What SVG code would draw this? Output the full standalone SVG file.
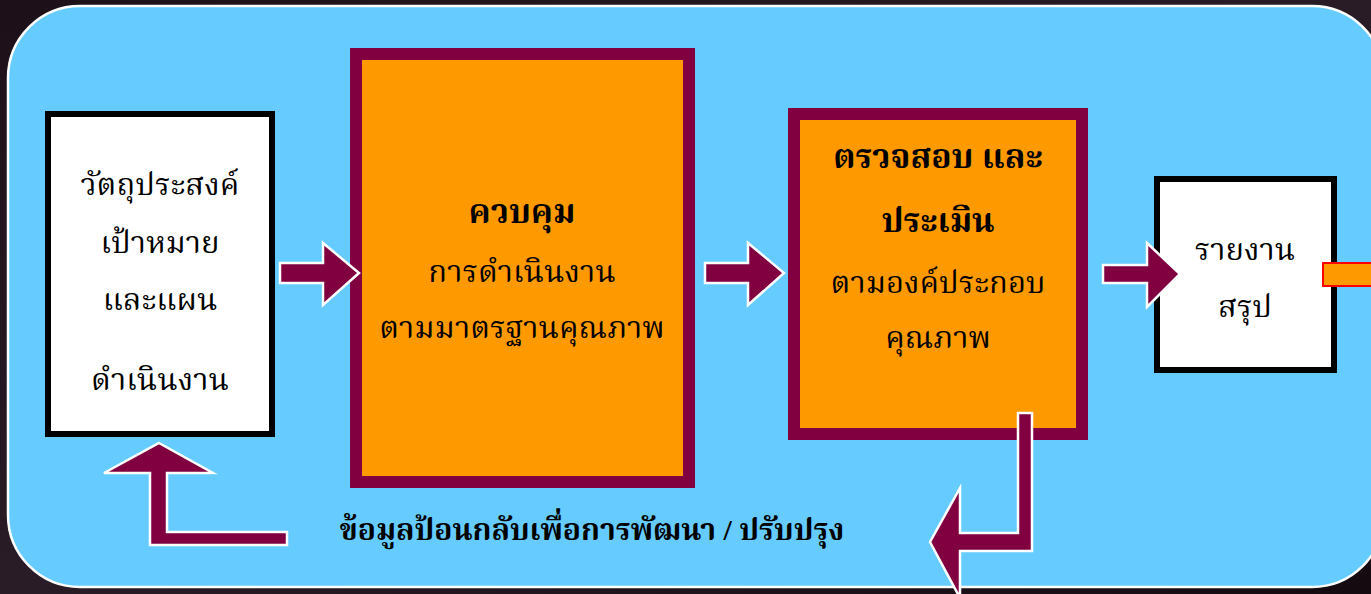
<svg xmlns="http://www.w3.org/2000/svg" width="1371" height="594" viewBox="0 0 1371 594">
<defs>
<linearGradient id="bg" x1="0" y1="0" x2="1" y2="1">
<stop offset="0" stop-color="#1e1018"/>
<stop offset="0.5" stop-color="#2a1c26"/>
<stop offset="1" stop-color="#140a10"/>
</linearGradient>
<style>
.t{font-family:"Liberation Serif","Noto Serif Thai","Noto Sans Thai",serif;font-size:31px;fill:#000;text-anchor:middle}
.b{font-weight:bold;font-size:33.5px}
.f{font-weight:bold;font-size:30px}
.white{fill:#fff;stroke:#000;stroke-width:6}
.ora{fill:#FF9900;stroke:#800040;stroke-width:12}
.arr{fill:#800040;stroke:#fff;stroke-width:2.5}
</style>
</defs>
<rect width="1371" height="594" fill="url(#bg)"/>
<rect x="8" y="6" width="1376" height="581" rx="72" ry="72" fill="#66CCFF" stroke="#fff" stroke-width="2.5"/>

<g id="node-objectives">
<rect class="white" x="48" y="114" width="224" height="320"/>
<text class="t" x="160" y="195">วัตถุประสงค์</text>
<text class="t" x="160" y="253">เป้าหมาย</text>
<text class="t" x="160" y="310">และแผน</text>
<text class="t" x="160" y="390">ดำเนินงาน</text>
</g>

<g id="node-control">
<rect class="ora" x="356" y="54" width="333" height="428"/>
<text class="t b" x="522" y="223">ควบคุม</text>
<text class="t" x="522" y="282">การดำเนินงาน</text>
<text class="t" x="522" y="338">ตามมาตรฐานคุณภาพ</text>
</g>

<g id="node-evaluate">
<rect class="ora" x="794" y="114" width="288" height="320"/>
<text class="t b" x="938" y="168">ตรวจสอบ และ</text>
<text class="t b" x="938" y="232">ประเมิน</text>
<text class="t" x="938" y="293">ตามองค์ประกอบ</text>
<text class="t" x="938" y="348">คุณภาพ</text>
</g>

<g id="node-report">
<rect class="white" x="1157" y="179" width="177" height="191"/>
<text class="t" x="1245" y="260">รายงาน</text>
<text class="t" x="1245" y="317">สรุป</text>
</g>

<g id="connectors">
<path class="arr" d="M280,263 L323,263 L323,243 L359,273 L323,305 L323,283 L280,283 Z"/>
<path class="arr" d="M705,263 L748,263 L748,243 L784,273 L748,305 L748,283 L705,283 Z"/>
<path class="arr" d="M1103,265 L1147,265 L1147,243 L1180,274 L1147,307 L1147,283 L1103,283 Z"/>
<path class="arr" d="M159,443 L213,473 L167,473 L167,532 L287,532 L287,545 L150,545 L150,473 L104,473 Z"/>
<path class="arr" d="M1018,413 L1032,413 L1032,551 L960,551 L960,598 L930,542 L960,488 L960,533 L1018,533 Z"/>
<rect x="1323" y="263" width="60" height="23" fill="#FF9900" stroke="#FF0000" stroke-width="2"/>
</g>

<text class="t f" x="592" y="540">ข้อมูลป้อนกลับเพื่อการพัฒนา / ปรับปรุง</text>
</svg>
